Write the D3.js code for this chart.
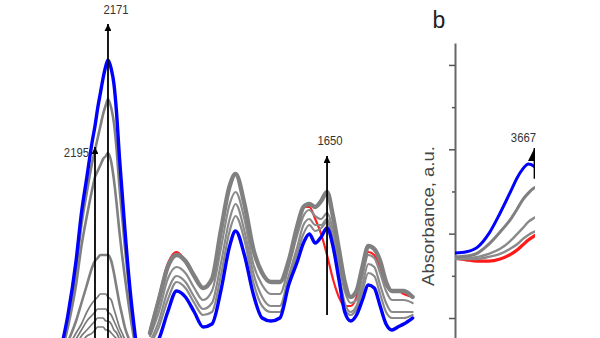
<!DOCTYPE html>
<html><head><meta charset="utf-8">
<script src="https://cdn.jsdelivr.net/npm/d3@7"></script>
<style>html,body{margin:0;padding:0;background:#fff;} svg{display:block;}</style>
</head><body><svg id="chart" width="600" height="338"></svg>
<script>
// ---- Panel a, CO stretching region (wavenumber, cm-1) ----
const coWavenumbers = [2260, 2245, 2230, 2220, 2210, 2200, 2195, 2190, 2185, 2180, 2175, 2171, 2165, 2160, 2155, 2150, 2145, 2140, 2130, 2120];
const coBlue  = [-3, 10, 28, 44, 56, 68, 73, 79, 84, 89, 93, 95, 92, 87, 77, 63, 51, 39, 18, 2];
const coGray1 = [-4, 8, 25, 40, 51, 61, 65, 69, 73, 77, 80, 82, 79, 74, 65, 53, 43, 33, 15, 0];
const coGray2 = [-5, 6, 20, 33, 43, 52, 56, 58, 60, 62, 63, 64, 61, 55, 47, 38, 30, 23, 10, -1];
const coGray3 = [-6, 1, 8, 14, 20, 26, 28, 29, 30, 30, 30, 30, 28, 24, 19, 14, 10, 6, 1, -3];
const coGray4 = [-6, -1, 4, 7, 11, 14, 15, 16, 17, 17, 17, 16, 15, 12, 9, 6, 4, 2, -1, -3];
const coGray5 = [-6, -2, 2, 5, 8, 10, 11, 12, 12, 12, 12, 11, 10, 8, 6, 4, 2, 0, -2, -3];
const coGray6 = [-6, -3, 0, 3, 5, 7, 8, 9, 9, 9, 8, 8, 7, 5, 4, 2, 0, -1, -3, -4];
const coGray7 = [-6, -4, -1, 1, 3, 4, 5, 6, 6, 6, 5, 5, 4, 3, 2, 0, -1, -2, -3, -4];

// ---- Panel a, carbonate / carboxylate region ----
const cbWavenumbers = [1950, 1935, 1920, 1905, 1890, 1875, 1860, 1845, 1830, 1815, 1805, 1790, 1775, 1760, 1745, 1730, 1715, 1700, 1690, 1680, 1670, 1660, 1650, 1640, 1630, 1620, 1610, 1600, 1590, 1580, 1570, 1560, 1550, 1540, 1530, 1520, 1505];
const cbRed   = [5, 16, 27, 31, 28, 23, 19, 22, 38, 53, 57, 47, 32, 24, 21, 21, 28, 40, 46, 46, 42, 37, 30, 22, 16, 13, 13, 16, 24, 31, 30, 26, 20, 18, 18, 17, 16];
const cbGray1 = [4, 15, 26, 30, 28, 23, 19, 22, 38, 53, 57, 47, 32, 24, 21, 21, 28, 40, 46, 47, 46, 48, 51, 43, 32, 21, 16, 18, 26, 33, 32, 28, 21, 18, 18, 18, 16];
const cbGray2 = [3, 11, 22, 26, 24, 19, 15, 18, 32, 47, 51, 42, 27, 20, 17, 17, 26, 37, 43, 45, 43, 42, 44, 38, 27, 18, 14, 15, 23, 30, 29, 24, 18, 15, 15, 15, 14];
const cbGray3 = [1, 8, 18, 23, 21, 16, 12, 14, 27, 42, 47, 38, 24, 16, 13, 13, 23, 33, 40, 42, 40, 40, 42, 35, 24, 14, 11, 13, 20, 27, 26, 20, 14, 11, 11, 11, 11];
const cbGray4 = [0, 6, 15, 21, 19, 14, 10, 11, 23, 38, 43, 35, 21, 13, 11, 11, 21, 31, 37, 40, 38, 39, 41, 34, 23, 12, 10, 12, 18, 24, 23, 17, 11, 9, 9, 9, 10];
const cbBlue  = [-2, 2, 11, 18, 16, 11, 6, 7, 18, 33, 38, 30, 17, 9, 8, 9, 20, 28, 34, 37, 34, 36, 39, 33, 22, 11, 8, 10, 15, 20, 19, 13, 7, 5, 6, 7, 9];

// ---- Panel b, OH region ----
const bWavenumbers = [3800, 3780, 3760, 3740, 3720, 3700, 3690, 3680, 3670, 3660, 3650];
const bBlue  = [0.154, 0.157, 0.168, 0.200, 0.249, 0.304, 0.332, 0.353, 0.365, 0.360, 0.346];
const bGray1 = [0.145, 0.147, 0.154, 0.175, 0.204, 0.237, 0.258, 0.280, 0.296, 0.308, 0.313];
const bGray2 = [0.142, 0.142, 0.145, 0.152, 0.164, 0.185, 0.199, 0.213, 0.228, 0.237, 0.244];
const bGray3 = [0.140, 0.140, 0.140, 0.145, 0.152, 0.166, 0.175, 0.187, 0.197, 0.204, 0.209];
const bRed   = [0.142, 0.138, 0.135, 0.135, 0.140, 0.152, 0.161, 0.173, 0.185, 0.194, 0.202];
const bMajorTicks = [0, 0.2, 0.4, 0.6];
const bMinorTicks = [0.1, 0.3, 0.5];

// ---- Arrow annotations ----
const arrowLabels = ["2171", "2195", "1650", "3667"];
const arrowWavenumbers = [2171, 2195, 1650, 3659];
const arrowFrom = [-5, -5, 10, 0.33];
const arrowTo = [107, 66, 63, 0.403];

const svg = d3.select("#chart");
const FONT = "'Liberation Sans', Arial, sans-serif";

const defs = svg.append("defs");
defs.append("marker").attr("id", "ah").attr("viewBox", "0 0 10 10")
  .attr("refX", 10).attr("refY", 5).attr("markerUnits", "userSpaceOnUse")
  .attr("markerWidth", 13).attr("markerHeight", 7).attr("orient", "auto")
  .append("path").attr("d", "M0,0 L10,5 L0,10 Z").attr("fill", "#000");
defs.append("marker").attr("id", "ahB").attr("viewBox", "0 0 10 10")
  .attr("refX", 10).attr("refY", 5).attr("markerUnits", "userSpaceOnUse")
  .attr("markerWidth", 20).attr("markerHeight", 13).attr("orient", "auto")
  .append("path").attr("d", "M0,0 L10,5 L0,10 Z").attr("fill", "#000");
defs.append("clipPath").attr("id", "clipB").append("rect")
  .attr("x", 455).attr("y", 0).attr("width", 80).attr("height", 338);

// scales
const xCO = d3.scaleLinear().domain([2260, 2120]).range([59.8, 135.6]);
const xCB = d3.scaleLinear().domain([1950, 1505]).range([150, 412.6]);
const yA = d3.scaleLinear().domain([0, 100]).range([345, 45]);
const xB = d3.scaleLinear().domain([3800, 3650]).range([455, 539.6]);
const yB = d3.scaleLinear().domain([-0.05, 0.652]).range([339.1, 43]);

function drawSeries(g, xs, ys, xScale, yScale, color, width) {
  const line = d3.line().x((d, i) => xScale(xs[i])).y(d => yScale(d)).curve(d3.curveMonotoneX);
  g.append("path").datum(ys).attr("d", line).attr("fill", "none")
    .attr("stroke", color).attr("stroke-width", width)
    .attr("stroke-linejoin", "round").attr("stroke-linecap", "round");
}

const gA = svg.append("g");
// CO region
[coGray7, coGray6, coGray5, coGray4].forEach(s => drawSeries(gA, coWavenumbers, s, xCO, yA, "#7a7a7a", 1.7));
[coGray3, coGray2, coGray1].forEach(s => drawSeries(gA, coWavenumbers, s, xCO, yA, "#808080", 2.6));
drawSeries(gA, coWavenumbers, coBlue, xCO, yA, "#0000ff", 3.4);
// carbonate region
drawSeries(gA, cbWavenumbers, cbRed, xCB, yA, "#ff2020", 2.2);
[cbGray4, cbGray3, cbGray2].forEach(s => drawSeries(gA, cbWavenumbers, s, xCB, yA, "#8a8a8a", 2.2));
drawSeries(gA, cbWavenumbers, cbGray1, xCB, yA, "#808080", 4.4);
drawSeries(gA, cbWavenumbers, cbBlue, xCB, yA, "#0000ff", 3.4);

// panel b
const gB = svg.append("g");
const majorAxis = d3.axisLeft(yB).tickValues(bMajorTicks).tickSize(6).tickFormat("").tickSizeOuter(0);
const minorAxis = d3.axisLeft(yB).tickValues(bMinorTicks).tickSize(3).tickFormat("").tickSizeOuter(0);
const axG = gB.append("g").attr("transform", "translate(455,0)").call(majorAxis);
gB.append("g").attr("transform", "translate(455,0)").call(minorAxis).select(".domain").remove();
gB.selectAll(".tick line").attr("stroke", "#555").attr("stroke-width", 1.5);
axG.select(".domain").attr("stroke", "#666").attr("stroke-width", 2);

const gBc = gB.append("g").attr("clip-path", "url(#clipB)");
drawSeries(gBc, bWavenumbers, bRed, xB, yB, "#ff1a1a", 3.2);
[bGray3, bGray2].forEach(s => drawSeries(gBc, bWavenumbers, s, xB, yB, "#8a8a8a", 2.4));
drawSeries(gBc, bWavenumbers, bGray1, xB, yB, "#808080", 3);
drawSeries(gBc, bWavenumbers, bBlue, xB, yB, "#0000ff", 3);

// arrows
arrowWavenumbers.forEach((w, i) => {
  const isB = i === 3, isCB = i === 2;
  const xs = isB ? xB : (isCB ? xCB : xCO);
  const ys = isB ? yB : yA;
  const parent = isB ? gBc : svg;
  parent.append("line").attr("x1", xs(w)).attr("x2", xs(w))
    .attr("y1", ys(arrowFrom[i])).attr("y2", ys(arrowTo[i]))
    .attr("stroke", "#000").attr("stroke-width", 1.8)
    .attr("marker-end", isB ? "url(#ahB)" : "url(#ah)");
});

// labels (slightly condensed, as in the source figure)
function label(txt, x, y, anchor) {
  svg.append("text").attr("transform", `translate(${x},${y}) scale(0.87,1.04)`)
    .attr("text-anchor", anchor)
    .attr("font-family", FONT).attr("font-size", 13).attr("fill", "#333").text(txt);
}
label(arrowLabels[0], xCO(2171) + 8, 13.5, "middle");
label(arrowLabels[1], xCO(2195) - 6, 157, "end");
label(arrowLabels[2], xCB(1650) + 3, 145, "middle");
label(arrowLabels[3], 536, 142, "end");

svg.append("text").attr("x", 439).attr("y", 28).attr("text-anchor", "middle")
  .attr("font-family", FONT).attr("font-size", 23).attr("fill", "#222").text("b");
svg.append("text").attr("transform", "translate(434,216) rotate(-90) scale(1,0.85)")
  .attr("text-anchor", "middle").attr("font-family", FONT).attr("font-size", 18.5)
  .attr("fill", "#444").text("Absorbance, a.u.");
</script></body></html>
